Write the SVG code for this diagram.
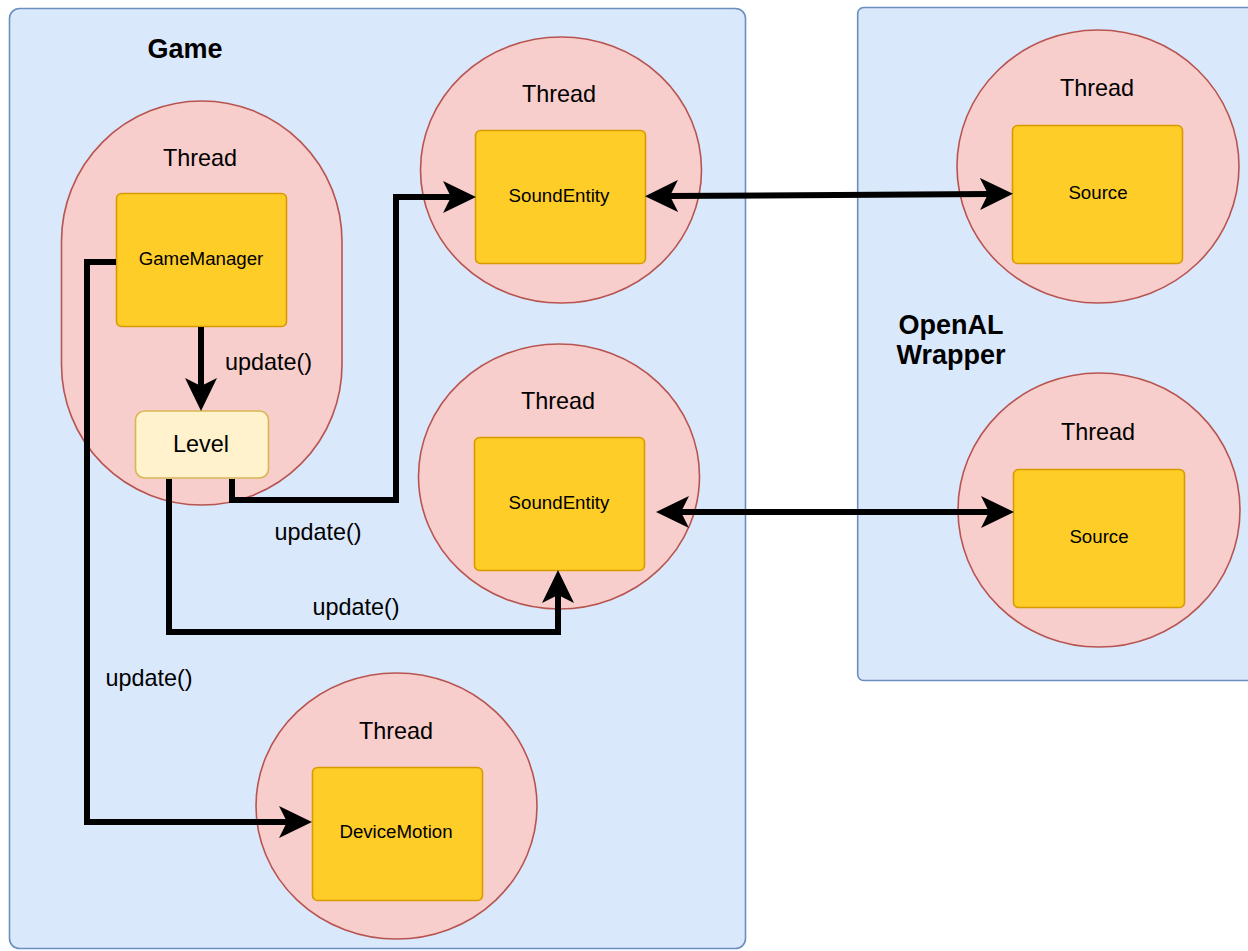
<svg xmlns="http://www.w3.org/2000/svg" width="1248" height="951" viewBox="0 0 1248 951">
<style>
.container{fill:#dae8fc;stroke:#6c8ebf;stroke-width:1.6}
.thread{fill:#f8cecc;stroke:#b85450;stroke-width:1.6}
.box{fill:#ffcd28;stroke:#d79b00;stroke-width:1.6}
.level{fill:#fff2cc;stroke:#d6b656;stroke-width:1.6}
text{font-family:"Liberation Sans",Arial,sans-serif;fill:#000}
.lbl{font-size:23.4px}
.small{font-size:18.7px}
.title{font-size:27px;font-weight:bold}
.mid{text-anchor:middle}
.conn{fill:none;stroke:#000;stroke-width:6;stroke-linejoin:miter}
</style>
<defs>
<marker id="ah" viewBox="0 0 33 32" refX="9" refY="16" markerWidth="33" markerHeight="32" markerUnits="userSpaceOnUse" orient="auto-start-reverse">
<path d="M0,0 L33,16 L0,32 L8,16 Z" fill="#000"/>
</marker>
</defs>

<g id="game">
<rect class="container" x="9.5" y="8.5" width="736" height="940" rx="10"/>
<text class="title mid" x="185" y="58">Game</text>
</g>

<g id="openal">
<rect class="container" x="857.7" y="7.5" width="400" height="673" rx="6"/>
<text class="title mid" x="951" y="334">OpenAL</text>
<text class="title mid" x="951" y="364">Wrapper</text>
</g>

<g id="thread-gm">
<rect class="thread" x="61.5" y="101" width="280.5" height="404" rx="140.25"/>
<text class="lbl mid" x="200" y="166">Thread</text>
</g>

<g id="gamemanager">
<rect class="box" x="116.5" y="193.5" width="170" height="133" rx="5"/>
<text class="small mid" x="201" y="265">GameManager</text>
</g>

<g id="level">
<rect class="level" x="135.5" y="411" width="133" height="67" rx="9"/>
<text class="lbl mid" x="201" y="452">Level</text>
</g>

<g id="thread-se1">
<ellipse class="thread" cx="561" cy="170" rx="140.5" ry="133"/>
<text class="lbl mid" x="559" y="102">Thread</text>
</g>
<g id="soundentity1">
<rect class="box" x="475.5" y="130.5" width="170" height="133" rx="5"/>
<text class="small mid" x="559" y="202">SoundEntity</text>
</g>

<g id="thread-se2">
<ellipse class="thread" cx="559" cy="476.5" rx="140.5" ry="132.5"/>
<text class="lbl mid" x="558" y="409">Thread</text>
</g>
<g id="soundentity2">
<rect class="box" x="474.5" y="437.5" width="170" height="133" rx="5"/>
<text class="small mid" x="559" y="509">SoundEntity</text>
</g>

<g id="thread-dm">
<ellipse class="thread" cx="396.5" cy="806" rx="140.5" ry="133"/>
<text class="lbl mid" x="396" y="739">Thread</text>
</g>
<g id="devicemotion">
<rect class="box" x="312.5" y="767.5" width="170" height="133" rx="5"/>
<text class="small mid" x="396" y="838">DeviceMotion</text>
</g>

<g id="thread-src1">
<ellipse class="thread" cx="1098" cy="166.5" rx="141" ry="136.5"/>
<text class="lbl mid" x="1097" y="96">Thread</text>
</g>
<g id="source1">
<rect class="box" x="1012.5" y="125.5" width="170" height="138" rx="5"/>
<text class="small mid" x="1098" y="199">Source</text>
</g>

<g id="thread-src2">
<ellipse class="thread" cx="1099" cy="510" rx="141" ry="137"/>
<text class="lbl mid" x="1098" y="440">Thread</text>
</g>
<g id="source2">
<rect class="box" x="1013.5" y="469.5" width="171" height="138" rx="5"/>
<text class="small mid" x="1099" y="543">Source</text>
</g>

<g id="connectors">
<path class="conn" d="M201,327 V387" marker-end="url(#ah)"/>
<path class="conn" d="M232,479 V500 H396 V197 H452" marker-end="url(#ah)"/>
<path class="conn" d="M169,479 V632 H558 V594" marker-end="url(#ah)"/>
<path class="conn" d="M116,262 H87 V822 H288" marker-end="url(#ah)"/>
<path class="conn" d="M669,196 L989,194" marker-start="url(#ah)" marker-end="url(#ah)"/>
<path class="conn" d="M680,512 H990" marker-start="url(#ah)" marker-end="url(#ah)"/>
<text class="lbl" x="225" y="370">update()</text>
<text class="lbl mid" x="318" y="540">update()</text>
<text class="lbl mid" x="356" y="615">update()</text>
<text class="lbl mid" x="149" y="686">update()</text>
</g>
</svg>
